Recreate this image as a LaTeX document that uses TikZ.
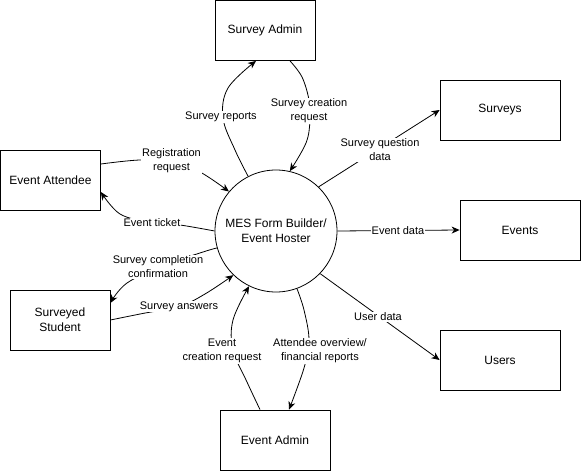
\documentclass[tikz,border=0pt]{standalone}
\usepackage{fontspec}
\setmainfont{Liberation Sans}
\usetikzlibrary{arrows.meta}
\begin{document}
\begin{tikzpicture}[x=1pt,y=-1pt,
  box/.style={draw, line width=0.8pt, minimum width=100pt, minimum height=60pt, inner sep=0pt, align=center, font=\fontsize{12}{15}\selectfont},
  proc/.style={draw, circle, line width=0.8pt, minimum size=122pt, inner sep=0pt, align=center, font=\fontsize{12}{15}\selectfont},
  flow/.style={line width=0.8pt, -{Stealth[length=8pt,width=7pt,inset=2.5pt]}},
  lbl/.style={fill=white, inner sep=0.8pt, align=center, font=\fontsize{11}{14}\selectfont}]
\useasboundingbox (0,0) rectangle (581,471);
% entities
\node[box] (sa) at (265,30.5) {Survey Admin};
\node[box, minimum width=120pt] (sv) at (500,110) {Surveys};
\node[box] (ea) at (50.5,180) {Event Attendee};
\node[box, minimum width=120pt] (ev) at (520,230) {Events};
\node[box] (ss) at (60,320) {Surveyed\\Student};
\node[box, minimum width=120pt] (us) at (500,360) {Users};
\node[box, minimum width=110pt] (ead) at (275,440) {Event Admin};
\node[proc] (c) at (276,231) {MES Form Builder/\\Event Hoster};
% connector end points on boxes
\coordinate (saL) at ([xshift=-9pt]sa.south);
\coordinate (saR) at ([xshift=25pt]sa.south);
\coordinate (eaT) at ([yshift=16pt]ea.east);
\coordinate (eaB) at ([yshift=-12pt]ea.east);
\coordinate (ssT) at ([yshift=17pt]ss.east);
\coordinate (eadL) at ([xshift=-15pt]ead.north);
\coordinate (eadR) at ([xshift=14pt]ead.north);
% connectors
\draw[flow] plot[smooth, tension=0.6] coordinates {(c.117) (235,150) (223,118) (228,88) (saL)};
\draw[flow] plot[smooth, tension=0.6] coordinates {(saR) (302,77) (309,100) (310,120) (306,143) (c.77)};
\draw[flow] (c.46) -- (sv.west);
\draw[flow] (c.east) -- (ev.west);
\draw[flow] (c.-44) -- (us.west);
\draw[flow] plot[smooth, tension=0.6] coordinates {(c.-70) (304,310) (309,340) (304,368) (eadR)};
\draw[flow] plot[smooth, tension=0.6] coordinates {(eadL) (247,382) (233,350) (233,320) (c.-116)};
\draw[flow] plot[smooth, tension=0.6] coordinates {(eaT) (140,160) (172,162) (200,172) (c.140)};
\draw[flow] plot[smooth, tension=0.6] coordinates {(c.180) (180,225) (150,222) (120,214) (eaB)};
\draw[flow] plot[smooth, tension=0.6] coordinates {(c.-164) (203,252) (165,265) (127,283) (ssT)};
\draw[flow] plot[smooth, tension=0.6] coordinates {(ss.east) (140,314) (180,306) (205,294) (c.-134)};
% labels
\node[lbl] (l1) at (221,117) {Survey reports};
\node[lbl] (l2) at (309,111) {Survey creation\\request};
\node[lbl] (l3) at (380,150) {Survey question\\data};
\node[lbl] (l4) at (398,230.5) {Event data};
\node[lbl] (l5) at (378,317) {User data};
\node[lbl] (l6) at (320,351) {Attendee overview/\\financial reports};
\node[lbl] (l7) at (222,351) {Event\\creation request};
\node[lbl] (l8) at (171.5,161) {Registration\\request};
\node[lbl] (l9) at (152,223) {Event ticket};
\node[lbl] (l10) at (158,267) {Survey completion\\confirmation};
\node[lbl] (l11) at (179,306.5) {Survey answers};
\end{tikzpicture}
\end{document}
